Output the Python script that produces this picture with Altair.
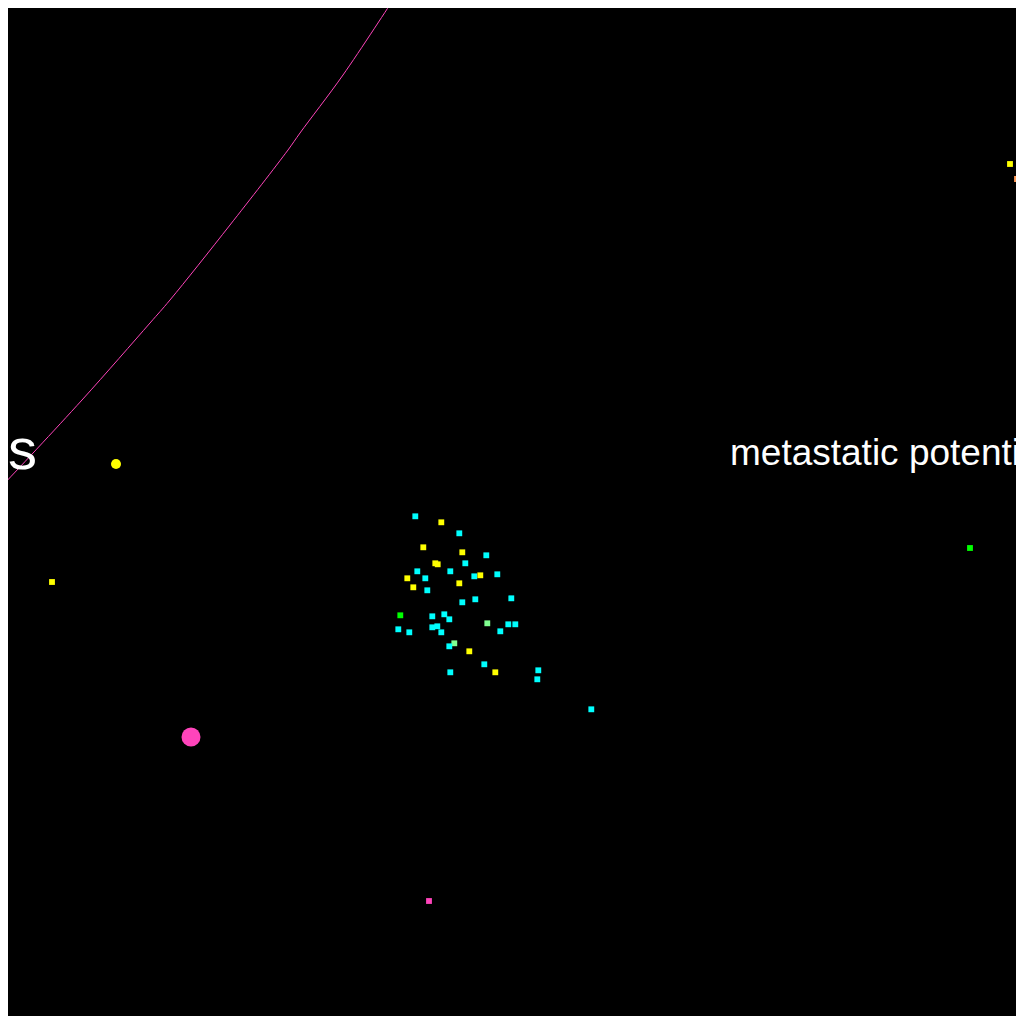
import altair as alt
import pandas as pd

# ---- data (positions, page pixel units) ----
pt_x = [415.3, 441.3, 459.3, 423.3, 462.3, 486.3, 465.3, 435.3, 437.7, 417.3,
        450.3, 425.3, 407.3, 474.3, 480.3, 497.3, 459.3, 413.3, 427.3, 462.3,
        475.3, 511.3, 400.3, 432.3, 444.3, 449.3, 398.3, 409.3, 432.3, 437.3,
        441.3, 487.3, 508.3, 515.3, 500.3, 454.3, 449.3, 469.3, 484.3, 495.3,
        450.3, 538.3, 537.3, 591.3, 1010.0, 1017.0, 52.0, 429.0, 970.0]
pt_y = [516.3, 522.3, 533.3, 547.3, 552.3, 555.3, 563.3, 563.3, 564.3, 571.3,
        571.3, 578.3, 578.3, 576.3, 575.3, 574.3, 583.3, 587.3, 590.3, 602.3,
        599.3, 598.3, 615.3, 616.3, 614.3, 619.3, 629.3, 632.3, 627.3, 626.3,
        632.3, 623.3, 624.3, 624.3, 631.3, 643.3, 646.3, 651.3, 664.3, 672.3,
        672.3, 670.3, 679.3, 709.3, 164.0, 179.0, 582.0, 901.0, 548.0]
pt_group = ["cyan", "yellow", "cyan", "yellow", "yellow", "cyan", "cyan", "yellow", "yellow", "cyan",
            "cyan", "cyan", "yellow", "cyan", "yellow", "cyan", "yellow", "yellow", "cyan", "cyan",
            "cyan", "cyan", "green", "cyan", "cyan", "cyan", "cyan", "cyan", "cyan", "cyan",
            "cyan", "lightgreen", "cyan", "cyan", "cyan", "lightgreen", "cyan", "yellow", "cyan", "yellow",
            "cyan", "cyan", "cyan", "cyan", "yellow", "orange", "yellow", "pink", "green"]

big_x = [116.0, 191.0]
big_y = [464.0, 737.0]
big_group = ["yellow", "pink"]
big_size = [133, 490]

pink_curve_x = [393.0, 343.0, 300.0, 288.0, 230.0, 170.0, 150.0, 82.0, 0.0, -10.0]
pink_curve_y = [0.0, 75.0, 133.0, 150.0, 225.0, 300.0, 323.0, 400.0, 488.0, 498.0]

cyan_curve_x = [1005.0, 1010.0, 1024.0, 1040.0]
cyan_curve_y = [-5.0, 0.0, 16.7, 33.0]

groups = ["cyan", "yellow", "green", "lightgreen", "orange", "pink"]
group_colors = ["#00ffff", "#ffff00", "#00ff00", "#80ff90", "#ff9955", "#ff44bb"]

label_left = "ns"
label_right = "metastatic potential"

# ---- tables ----
pts = pd.DataFrame({"x": pt_x, "y": pt_y, "g": pt_group})
big = pd.DataFrame({"x": big_x, "y": big_y, "g": big_group, "s": big_size})
pink = pd.DataFrame({"x": pink_curve_x, "y": pink_curve_y, "i": range(len(pink_curve_x))})
cyanc = pd.DataFrame({"x": cyan_curve_x, "y": cyan_curve_y, "i": range(len(cyan_curve_x))})
txt_l = pd.DataFrame({"x": [37.0], "y": [469.0], "t": [label_left]})
txt_r = pd.DataFrame({"x": [730.0], "y": [465.0], "t": [label_right]})

X = alt.X("x:Q", scale=alt.Scale(domain=[8, 1016], nice=False, zero=False), axis=None)
Y = alt.Y("y:Q", scale=alt.Scale(domain=[1016, 8], nice=False, zero=False), axis=None)
C = alt.Color("g:N", scale=alt.Scale(domain=groups, range=group_colors), legend=None)

pink_line = alt.Chart(pink).mark_line(
    color="#ff44bb", strokeWidth=1, clip=True, interpolate="catmull-rom").encode(
    x=X, y=Y, order="i:Q")
cyan_line = alt.Chart(cyanc).mark_line(
    color="#00ffff", strokeWidth=1, clip=True, interpolate="catmull-rom").encode(
    x=X, y=Y, order="i:Q")

squares = alt.Chart(pts).mark_square(size=34, opacity=1, clip=True).encode(x=X, y=Y, color=C)
circles = alt.Chart(big).mark_circle(opacity=1, clip=True).encode(
    x=X, y=Y, color=C,
    size=alt.Size("s:Q", scale=alt.Scale(type="identity"), legend=None))

text_l = alt.Chart(txt_l).mark_text(
    align="right", baseline="alphabetic", font="Liberation Sans", fontSize=58,
    color="white", clip=True).encode(x=X, y=Y, text="t:N")
text_r = alt.Chart(txt_r).mark_text(
    align="left", baseline="alphabetic", font="Liberation Sans", fontSize=37,
    color="white", clip=True).encode(x=X, y=Y, text="t:N")

chart = alt.layer(pink_line, cyan_line, squares, circles, text_l, text_r).properties(
    width=1008, height=1008, padding=0, autosize="none", background="black"
).configure_view(stroke=None, fill="black")

chart.save("out.html", embed_options={"renderer": "svg", "actions": False})
